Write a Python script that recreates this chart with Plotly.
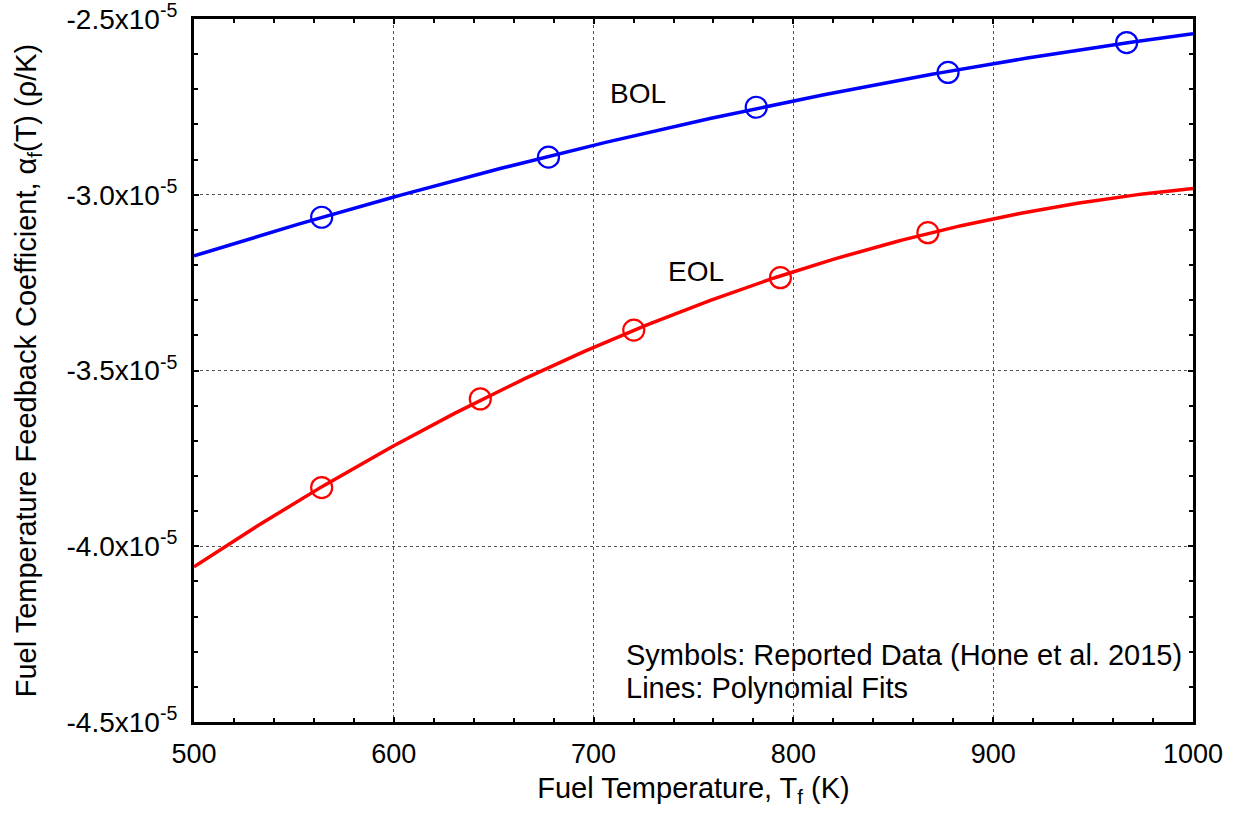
import numpy as np
import plotly.graph_objects as go

# Reported fuel temperature feedback coefficients (rho/K), Hone et al. 2015
bol_T = [563.9, 677.4, 781.4, 877.4, 966.8]
bol_alpha = [-3.064e-5, -2.893e-5, -2.751e-5, -2.652e-5, -2.567e-5]

eol_T = [563.9, 643.3, 720.1, 793.5, 867.3]
eol_alpha = [-3.833e-5, -3.581e-5, -3.385e-5, -3.236e-5, -3.108e-5]

# Axis ticks
x_ticks = [500, 600, 700, 800, 900, 1000]
y_ticks = [-4.5e-5, -4.0e-5, -3.5e-5, -3.0e-5, -2.5e-5]
y_ticktext = ["-4.5x10<sup>-5</sup>", "-4.0x10<sup>-5</sup>", "-3.5x10<sup>-5</sup>",
              "-3.0x10<sup>-5</sup>", "-2.5x10<sup>-5</sup>"]

FONT = "Liberation Sans, Arial, sans-serif"

# Second-order polynomial fits over the full temperature range
T_fit = np.linspace(x_ticks[0], x_ticks[-1], 200)
bol_fit = np.polyval(np.polyfit(bol_T, bol_alpha, 2), T_fit)
eol_fit = np.polyval(np.polyfit(eol_T, eol_alpha, 2), T_fit)

fig = go.Figure()
fig.add_trace(go.Scatter(x=T_fit, y=bol_fit, mode="lines",
                         line=dict(color="#0000ff", width=3.5), showlegend=False))
fig.add_trace(go.Scatter(x=T_fit, y=eol_fit, mode="lines",
                         line=dict(color="#ff0000", width=3.5), showlegend=False))
fig.add_trace(go.Scatter(x=bol_T, y=bol_alpha, mode="markers",
                         marker=dict(symbol="circle-open", size=21, color="#0000ff",
                                     line=dict(color="#0000ff", width=2.2)),
                         showlegend=False))
fig.add_trace(go.Scatter(x=eol_T, y=eol_alpha, mode="markers",
                         marker=dict(symbol="circle-open", size=21, color="#ff0000",
                                     line=dict(color="#ff0000", width=2.2)),
                         showlegend=False))

fig.add_annotation(x=722, y=-2.711e-5, text="BOL", showarrow=False,
                   font=dict(family=FONT, size=28, color="black"))
fig.add_annotation(x=751, y=-3.217e-5, text="EOL", showarrow=False,
                   font=dict(family=FONT, size=28, color="black"))
fig.add_annotation(x=0.4304, y=0.0953, xref="paper", yref="paper",
                   xanchor="left", yanchor="middle", showarrow=False,
                   text="Symbols: Reported Data (Hone et al. 2015)",
                   font=dict(family=FONT, size=29, color="black"))
fig.add_annotation(x=0.4304, y=0.0484, xref="paper", yref="paper",
                   xanchor="left", yanchor="middle", showarrow=False,
                   text="Lines: Polynomial Fits",
                   font=dict(family=FONT, size=29, color="black"))

axis_common = dict(
    showline=True, linecolor="black", linewidth=3, mirror="allticks",
    ticks="inside", ticklen=5, tickwidth=2, tickcolor="black",
    showgrid=True, gridcolor="#555555", gridwidth=1, griddash="dot",
    zeroline=False, automargin=False, ticklabeloverflow="allow",
)

fig.update_xaxes(
    range=[500, 1000], tickvals=x_ticks,
    tickfont=dict(family=FONT, size=27, color="black"),
    title=dict(text="Fuel Temperature, T<sub>f</sub> (K)",
               font=dict(family=FONT, size=29, color="black"), standoff=10),
    minor=dict(ticks="inside", ticklen=4, tickwidth=2, tickcolor="black",
               dtick=20, tick0=500, showgrid=False),
    ticklabelstandoff=6,
    **axis_common,
)
fig.update_yaxes(
    range=[-4.5e-5, -2.5e-5], tickvals=y_ticks, ticktext=y_ticktext,
    tickfont=dict(family=FONT, size=28, color="black"),
    title=dict(text="Fuel Temperature Feedback Coefficient, α<sub>f</sub>(T) (ρ/K)",
               font=dict(family=FONT, size=29, color="black"), standoff=22),
    minor=dict(ticks="inside", ticklen=4, tickwidth=2, tickcolor="black",
               dtick=0.1e-5, tick0=-4.5e-5, showgrid=False),
    ticklabelstandoff=8,
    **axis_common,
)

fig.update_layout(
    width=1238, height=813,
    margin=dict(l=194, r=45, t=19, b=91),
    plot_bgcolor="white", paper_bgcolor="white",
    font=dict(family=FONT, color="black"),
)

fig.write_html("out.html")
